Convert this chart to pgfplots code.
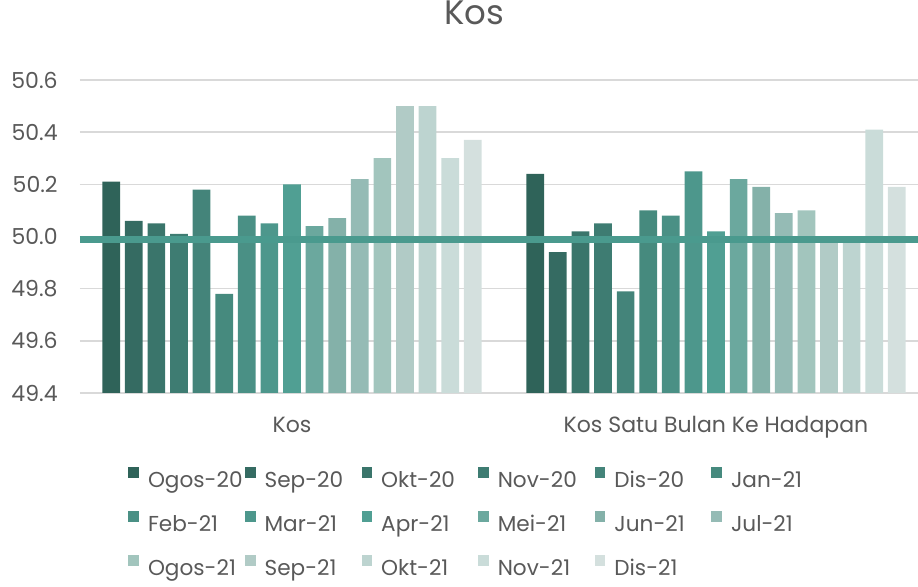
\documentclass[border=0pt]{standalone}
\usepackage{pgfplots}
\pgfplotsset{compat=1.18}
\usepackage{fontspec}
\setmainfont{Poppins}
\definecolor{txt}{HTML}{595959}
\definecolor{gridc}{HTML}{D9D9D9}
\definecolor{ln}{HTML}{4A9A8E}
\definecolor{c1}{HTML}{2F6359}
\definecolor{c2}{HTML}{356B62}
\definecolor{c3}{HTML}{3A756B}
\definecolor{c4}{HTML}{3E7C72}
\definecolor{c5}{HTML}{44847A}
\definecolor{c6}{HTML}{468A7E}
\definecolor{c7}{HTML}{4A9085}
\definecolor{c8}{HTML}{4D978C}
\definecolor{c9}{HTML}{509F93}
\definecolor{c10}{HTML}{6BA89E}
\definecolor{c11}{HTML}{84B1A9}
\definecolor{c12}{HTML}{95BBB5}
\definecolor{c13}{HTML}{A2C5BD}
\definecolor{c14}{HTML}{B1CBC6}
\definecolor{c15}{HTML}{BDD4D0}
\definecolor{c16}{HTML}{CADCD9}
\definecolor{c17}{HTML}{D4E0DE}
\newcommand\legent[1]{\addlegendentry{\makebox[48.5pt][l]{\strut #1}}}
\begin{document}
\begin{tikzpicture}
\path[use as bounding box] (-40pt,-97pt) rectangle (419pt,196.5pt);
\begin{axis}[
  at={(0,0)}, anchor=south west,
  scale only axis, width=419pt, height=156.5pt,
  xmin=-0.5, xmax=1.4764, ymin=49.4, ymax=50.6,
  ybar=2.45pt, bar width=8.85pt,
  axis line style={draw=none},
  major tick length=0pt,
  xtick={0,1}, xticklabels={Kos, Kos Satu Bulan Ke Hadapan},
  ytick={49.4,49.6,49.8,50.0,50.2,50.4,50.6},
  /pgf/number format/assume math mode=true,
  yticklabel={\pgfmathprintnumber[fixed,fixed zerofill,precision=1]{\tick}},
  ymajorgrids, grid style={gridc, line width=0.75pt},
  tick label style={text=txt, font=\fontsize{11}{13}\selectfont, inner sep=0pt},
  xticklabel style={anchor=base, yshift=-20pt},
  yticklabel style={anchor=east, xshift=-11pt},
  title={Kos},
  title style={at={(0.4708,1.1773)}, anchor=center, text=txt, font=\fontsize{17}{20}\selectfont},
  legend columns=6,
  legend cell align=left,
  legend image code/.code={\fill[#1] (0pt,1.0pt) rectangle (5.3pt,6.4pt);},
  legend style={at={(0.0573,-0.2364)}, anchor=north west, draw=none, fill=none,
    inner sep=0pt, row sep=10.3pt,
    nodes={inner sep=0pt, text=txt, font=\fontsize{10.8}{13}\selectfont},
    /tikz/every odd column/.append style={column sep=4.5pt}},
]
\addplot[fill=c1, draw=none] coordinates {(0,50.21) (1,50.24)}; \legent{Ogos-20}
\addplot[fill=c2, draw=none] coordinates {(0,50.06) (1,49.94)}; \legent{Sep-20}
\addplot[fill=c3, draw=none] coordinates {(0,50.05) (1,50.02)}; \legent{Okt-20}
\addplot[fill=c4, draw=none] coordinates {(0,50.01) (1,50.05)}; \legent{Nov-20}
\addplot[fill=c5, draw=none] coordinates {(0,50.18) (1,49.79)}; \legent{Dis-20}
\addplot[fill=c6, draw=none] coordinates {(0,49.78) (1,50.10)}; \legent{Jan-21}
\addplot[fill=c7, draw=none] coordinates {(0,50.08) (1,50.08)}; \legent{Feb-21}
\addplot[fill=c8, draw=none] coordinates {(0,50.05) (1,50.25)}; \legent{Mar-21}
\addplot[fill=c9, draw=none] coordinates {(0,50.20) (1,50.02)}; \legent{Apr-21}
\addplot[fill=c10, draw=none] coordinates {(0,50.04) (1,50.22)}; \legent{Mei-21}
\addplot[fill=c11, draw=none] coordinates {(0,50.07) (1,50.19)}; \legent{Jun-21}
\addplot[fill=c12, draw=none] coordinates {(0,50.22) (1,50.09)}; \legent{Jul-21}
\addplot[fill=c13, draw=none] coordinates {(0,50.30) (1,50.10)}; \legent{Ogos-21}
\addplot[fill=c14, draw=none] coordinates {(0,50.50) (1,50.00)}; \legent{Sep-21}
\addplot[fill=c15, draw=none] coordinates {(0,50.50) (1,50.00)}; \legent{Okt-21}
\addplot[fill=c16, draw=none] coordinates {(0,50.30) (1,50.41)}; \legent{Nov-21}
\addplot[fill=c17, draw=none] coordinates {(0,50.37) (1,50.19)}; \legent{Dis-21}
\addplot[sharp plot, ln, line width=3.5pt, forget plot] coordinates {(-0.5,49.99) (1.4764,49.99)};
\end{axis}
\end{tikzpicture}
\end{document}
